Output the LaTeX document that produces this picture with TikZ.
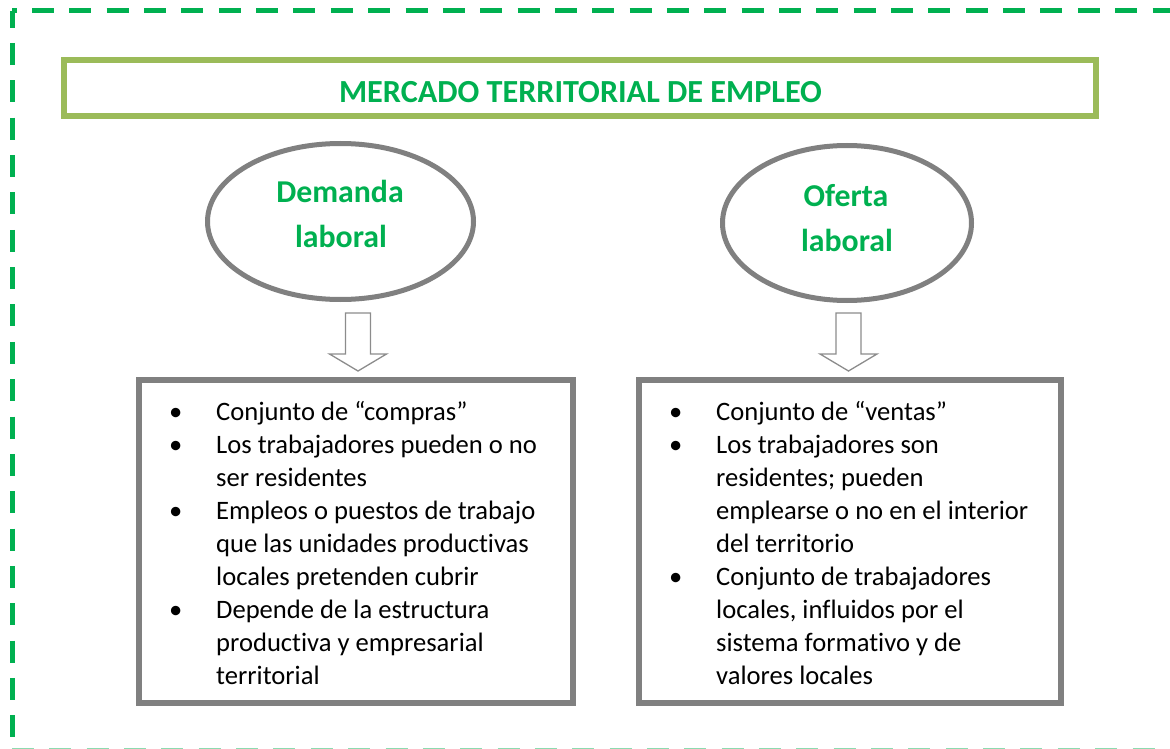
\documentclass[tikz,border=0pt]{standalone}
\usepackage{fontspec}
\setmainfont{Carlito}[Ligatures=NoCommon]
\usetikzlibrary{shapes.geometric}
\definecolor{frameGreen}{HTML}{00B050}
\definecolor{titleOlive}{HTML}{9BBB59}
\definecolor{boxGray}{HTML}{808080}
\definecolor{arrGray}{HTML}{8C8C8C}
\tikzset{
  frameline/.style={draw=frameGreen, line width=5pt, dash pattern=on 22pt off 15.35pt},
  titlebox/.style={draw=titleOlive, line width=6pt, inner sep=0pt},
  oval/.style={ellipse, draw=boxGray, line width=5pt, inner sep=0pt},
  listbox/.style={draw=boxGray, line width=6pt, inner sep=0pt},
  arrowline/.style={draw=arrGray, line width=1.3pt, line join=miter, fill=white},
  heading/.style={text=frameGreen, font=\fontsize{31.8}{38}\selectfont\bfseries, inner sep=0pt, anchor=base},
  listtext/.style={font=\fontsize{26.6}{33}\selectfont, inner sep=0pt, anchor=base west},
  blockarr/.pic={\draw[arrowline] (-12.5,0) -- (12.5,0) -- (12.5,41) -- (28.5,41) -- (0,58) -- (-28.5,41) -- (-12.5,41) -- cycle;}
}
\newcommand{\bul}{\makebox[47pt][l]{\textbullet}}
\begin{document}
\begin{tikzpicture}[x=1pt,y=-1pt]
\useasboundingbox (0,0) rectangle (1170,749);
% dashed frame
\coordinate (fTL) at (12,11);
\coordinate (fTR) at (1178,11);
\coordinate (fBL) at (12,750.5);
\coordinate (fBR) at (1178,750.5);
\draw[frameline, dash phase=17.35pt] (fTL) -- (fTR);
\draw[frameline, dash phase=5.35pt] (fTL) -- (fBL);
\draw[frameline, draw=frameGreen!45, dash phase=0pt] (fBL) -- (fBR);
\draw[frameline, dash phase=17.35pt] (fTR) -- (fBR);
% title
\node[titlebox, minimum width=1032pt, minimum height=56pt] (title) at (580,88) {};
\node[heading, font=\fontsize{32.2}{38}\selectfont\bfseries] (titletext) at (580.5,103) {MERCADO TERRITORIAL DE EMPLEO};
% ellipses
\node[oval, minimum width=266pt, minimum height=156pt] (dem) at (340.5,221.5) {};
\node[heading] (dem1) at (340,202) {Demanda};
\node[heading] (dem2) at (341,247) {laboral};
\node[oval, minimum width=249pt, minimum height=155pt] (ofe) at (847,223) {};
\node[heading] (ofe1) at (846,206) {Oferta};
\node[heading] (ofe2) at (847,251) {laboral};
% arrows
\pic (larr) at (358,313) {blockarr};
\pic (rarr) at (848.5,313) {blockarr};
% boxes
\node[listbox, minimum width=434pt, minimum height=323pt] (lbox) at (356,541.5) {};
\node[listbox, minimum width=421.5pt, minimum height=323pt] (rbox) at (849.75,541.5) {};
\node[listtext] (ltext) at (169,420) {\begin{tabular}[t]{@{}l@{}l@{}}
\bul & Conjunto de “compras”\\
\bul & Los trabajadores pueden o no\\
 & ser residentes\\
\bul & Empleos o puestos de trabajo\\
 & que las unidades productivas\\
 & locales pretenden cubrir\\
\bul & Depende de la estructura\\
 & productiva y empresarial\\
 & territorial
\end{tabular}};
\node[listtext] (rtext) at (669,420) {\begin{tabular}[t]{@{}l@{}l@{}}
\bul & Conjunto de “ventas”\\
\bul & Los trabajadores son\\
 & residentes; pueden\\
 & emplearse o no en el interior\\
 & del territorio\\
\bul & Conjunto de trabajadores\\
 & locales, influidos por el\\
 & sistema formativo y de\\
 & valores locales
\end{tabular}};
\end{tikzpicture}
\end{document}
